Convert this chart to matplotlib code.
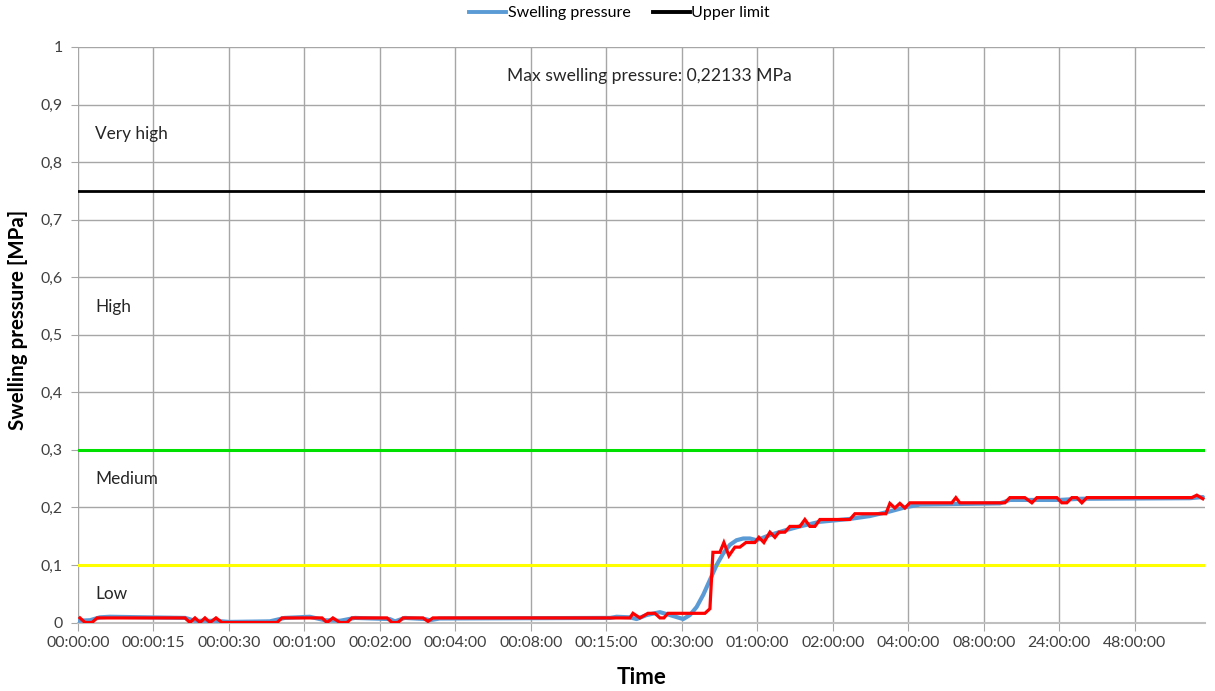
import matplotlib
matplotlib.use("Agg")
import matplotlib.pyplot as plt
from matplotlib.lines import Line2D

plt.rcParams['font.family'] = ['Lato', 'DejaVu Sans']

# Category labels of the time axis (one tick per category position)
time_labels = ["00:00:00", "00:00:15", "00:00:30", "00:01:00", "00:02:00",
               "00:04:00", "00:08:00", "00:15:00", "00:30:00", "01:00:00",
               "02:00:00", "04:00:00", "08:00:00", "24:00:00", "48:00:00"]

# Measured swelling pressure (raw), position along the category axis and MPa
raw_pos = [0.026, 0.093, 0.185, 0.252, 1.417, 1.483, 1.550, 1.616, 1.682, 1.748,
           1.828, 1.907, 2.636, 2.702, 3.232, 3.298, 3.377, 3.470, 3.563, 3.629,
           4.093, 4.159, 4.238, 4.305, 4.570, 4.636, 4.702, 7.311, 7.351, 7.444,
           7.550, 7.642, 7.709, 7.762, 7.815, 8.305, 8.371, 8.411, 8.503, 8.556,
           8.623, 8.702, 8.768, 8.848, 8.967, 9.020, 9.086, 9.166, 9.232, 9.285,
           9.364, 9.430, 9.563, 9.629, 9.695, 9.762, 9.828, 10.225, 10.291, 10.702,
           10.755, 10.821, 10.887, 10.954, 11.020, 11.576, 11.629, 11.682, 12.278, 12.344,
           12.543, 12.636, 12.702, 12.967, 13.033, 13.099, 13.166, 13.232, 13.298, 13.364,
           14.755, 14.821, 14.901]
raw_mpa = [0.008, 0.000, 0.000, 0.008, 0.008, 0.000, 0.008, 0.000, 0.008, 0.000,
           0.008, 0.000, 0.000, 0.008, 0.008, 0.000, 0.008, 0.000, 0.000, 0.008,
           0.008, 0.000, 0.000, 0.008, 0.008, 0.002, 0.008, 0.008, 0.016, 0.008,
           0.016, 0.016, 0.008, 0.008, 0.016, 0.016, 0.024, 0.122, 0.122, 0.139,
           0.116, 0.131, 0.131, 0.139, 0.139, 0.148, 0.139, 0.157, 0.148, 0.157,
           0.157, 0.167, 0.167, 0.179, 0.167, 0.167, 0.179, 0.179, 0.189, 0.189,
           0.207, 0.199, 0.207, 0.199, 0.208, 0.208, 0.217, 0.208, 0.208, 0.217,
           0.217, 0.208, 0.217, 0.217, 0.208, 0.208, 0.217, 0.217, 0.208, 0.217,
           0.217, 0.2213, 0.215]

# Smoothed swelling pressure
smooth_pos = [0.0, 0.16, 0.29, 0.42, 1.42, 1.55, 1.82, 2.0, 2.54, 2.74,
              3.07, 3.27, 3.47, 3.67, 4.13, 4.20, 4.33, 4.60, 4.66, 4.79,
              7.05, 7.135, 7.311, 7.400, 7.532, 7.709, 7.841, 8.017, 8.106, 8.195,
              8.282, 8.371, 8.460, 8.547, 8.636, 8.724, 8.812, 8.901, 8.989, 9.166,
              9.364, 9.563, 9.828, 10.225, 10.490, 10.755, 10.954, 11.152, 12.212, 12.344,
              13.007, 13.272, 14.728, 14.901]
smooth_mpa = [0.003, 0.004, 0.009, 0.010, 0.008, 0.003, 0.003, 0.001, 0.002, 0.008,
              0.010, 0.004, 0.003, 0.008, 0.006, 0.002, 0.008, 0.006, 0.004, 0.007,
              0.008, 0.010, 0.009, 0.006, 0.013, 0.018, 0.013, 0.006, 0.013, 0.027,
              0.048, 0.074, 0.100, 0.120, 0.135, 0.143, 0.146, 0.146, 0.143, 0.152,
              0.160, 0.167, 0.175, 0.180, 0.185, 0.193, 0.200, 0.205, 0.207, 0.213,
              0.213, 0.215, 0.216, 0.218]

# Classification thresholds and zone names
upper_limit = 0.75
medium_limit = 0.30
low_limit = 0.10
zone_names = ["Very high", "High", "Medium", "Low"]
zone_text_y = [0.849, 0.549, 0.249, 0.05]
max_pressure_text = "Max swelling pressure: 0,22133 MPa"

fig = plt.figure(figsize=(12.15, 6.91), dpi=100)
ax = fig.add_axes([0.0642, 0.0991, 0.9276, 0.8329])

x_max = 14.93
ax.set_xlim(0, x_max)
ax.set_ylim(0, 1)

grid_c = "#A6A6A6"
ax.set_xticks(range(len(time_labels)))
ax.set_xticklabels(time_labels)
ax.set_yticks([i / 10 for i in range(11)])
ax.set_yticklabels(["0" if i == 0 else ("1" if i == 10 else f"0,{i}") for i in range(11)])
ax.grid(True, color=grid_c, linewidth=1.0, zorder=0)
ax.set_axisbelow(True)
for s in ["top", "right", "left"]:
    ax.spines[s].set_visible(False)
ax.spines["bottom"].set_color("#BFBFBF")
ax.spines["bottom"].set_linewidth(1.5)
ax.tick_params(axis="x", length=6, color=grid_c, labelsize=11.4, labelcolor="#404040", pad=4)
ax.tick_params(axis="y", length=5, color=grid_c, labelsize=11.4, labelcolor="#404040", pad=6)

# Threshold lines
ax.axhline(low_limit, color="#FFFF00", linewidth=2.2, zorder=2)
ax.axhline(medium_limit, color="#00E000", linewidth=2.2, zorder=2)
ax.axhline(upper_limit, color="#000000", linewidth=2.0, zorder=2)

# Pressure curves
ax.plot(smooth_pos, smooth_mpa, color="#5B9BD5", linewidth=3.0,
        solid_joinstyle="round", solid_capstyle="round", zorder=3)
ax.plot(raw_pos, raw_mpa, color="#FF0000", linewidth=2.3,
        solid_joinstyle="miter", zorder=4)

for name, yv in zip(zone_names, zone_text_y):
    ax.text(0.225, yv, name, fontsize=12.4, color="#262626", va="center", ha="left")
ax.text(7.57, 0.949, max_pressure_text, fontsize=12.6, color="#262626",
        va="center", ha="center")

ax.set_xlabel("Time", fontsize=16, fontweight="bold")
ax.xaxis.set_label_coords(0.5, -0.077)
ax.set_ylabel("Swelling pressure [MPa]", fontsize=14.8, fontweight="bold")
ax.yaxis.set_label_coords(-0.0444, 0.526)

handles = [Line2D([], [], color="#5B9BD5", linewidth=2.8),
           Line2D([], [], color="#000000", linewidth=2.8)]
fig.legend(handles, ["Swelling pressure", "Upper limit"], loc="center",
           bbox_to_anchor=(0.510, 0.981), ncol=2, frameon=False, fontsize=11.5,
           handlelength=2.3, handletextpad=0.1, columnspacing=1.4)

fig.savefig("out.png", dpi=100)
